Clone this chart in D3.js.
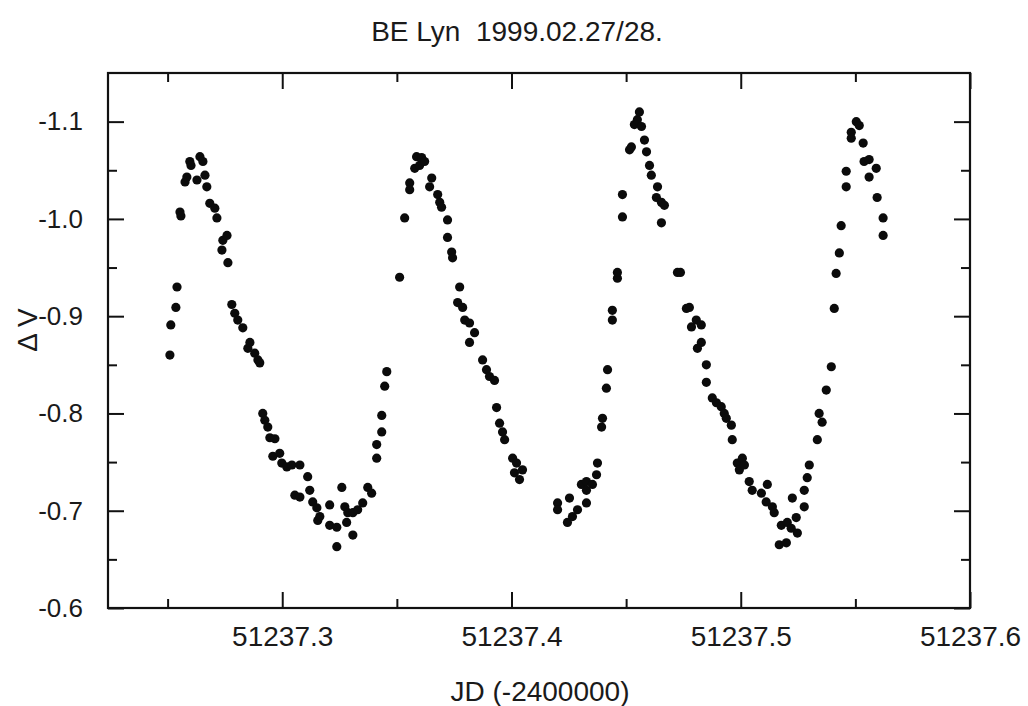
<!DOCTYPE html>
<html>
<head>
<meta charset="utf-8">
<script src="https://cdn.jsdelivr.net/npm/d3@7"></script>
<style>
  body { margin: 0; background: #fff; }
  svg { display: block; font-family: Arial, "Liberation Sans", sans-serif; }
</style>
</head>
<body>
<div id="chart"></div>
<script>
// BE Lyn light curve, 1999.02.27/28
var title = "BE Lyn  1999.02.27/28.";
var xLabel = "JD (-2400000)";
var yLabel = "\u0394 V";

var xMajor = [51237.3, 51237.4, 51237.5, 51237.6];
var xMinor = [51237.25, 51237.35, 51237.45, 51237.55];
var yMajor = [-1.1, -1.0, -0.9, -0.8, -0.7, -0.6];
var yMinor = [-1.05, -0.95, -0.85, -0.75, -0.65];

// observation times (JD - 2400000)
var jd = [
  51237.2510, 51237.2514, 51237.2536, 51237.2541, 51237.2554, 51237.2558, 51237.2576, 51237.2584,
  51237.2597, 51237.2602, 51237.2628, 51237.2641, 51237.2654, 51237.2663, 51237.2671, 51237.2684,
  51237.2706, 51237.2715, 51237.2737, 51237.2741, 51237.2759, 51237.2763, 51237.2780, 51237.2793,
  51237.2806, 51237.2828, 51237.2850, 51237.2859, 51237.2880, 51237.2894, 51237.2902, 51237.2915,
  51237.2924, 51237.2937, 51237.2946, 51237.2959, 51237.2968, 51237.2989, 51237.2998, 51237.3020,
  51237.3042, 51237.3055, 51237.3077, 51237.3077, 51237.3111, 51237.3120, 51237.3133, 51237.3151,
  51237.3155, 51237.3164, 51237.3207, 51237.3207, 51237.3238, 51237.3238, 51237.3260, 51237.3273,
  51237.3281, 51237.3286, 51237.3308, 51237.3308, 51237.3329, 51237.3351, 51237.3373, 51237.3390,
  51237.3412, 51237.3412, 51237.3434, 51237.3434, 51237.3447, 51237.3456,
  51237.3512, 51237.3534, 51237.3556, 51237.3556, 51237.3578, 51237.3586, 51237.3599, 51237.3608,
  51237.3621, 51237.3643, 51237.3652, 51237.3678, 51237.3687, 51237.3695, 51237.3721, 51237.3721,
  51237.3739, 51237.3743, 51237.3765, 51237.3774, 51237.3787, 51237.3796, 51237.3817, 51237.3817,
  51237.3839, 51237.3874, 51237.3891, 51237.3904, 51237.3926, 51237.3935, 51237.3948, 51237.3961,
  51237.3970, 51237.4005, 51237.4013, 51237.4022, 51237.4035, 51237.4048,
  51237.4201, 51237.4201, 51237.4244, 51237.4253, 51237.4266, 51237.4288, 51237.4305, 51237.4327,
  51237.4327, 51237.4327, 51237.4353, 51237.4371, 51237.4375, 51237.4393, 51237.4397, 51237.4414,
  51237.4419, 51237.4440, 51237.4440, 51237.4462, 51237.4462, 51237.4484, 51237.4484, 51237.4515,
  51237.4523, 51237.4536, 51237.4549, 51237.4558, 51237.4567, 51237.4580, 51237.4589, 51237.4602,
  51237.4610, 51237.4632, 51237.4637, 51237.4654, 51237.4667, 51237.4654, 51237.4724, 51237.4737,
  51237.4763, 51237.4776, 51237.4785, 51237.4806, 51237.4828, 51237.4828, 51237.4811, 51237.4850,
  51237.4850, 51237.4876, 51237.4894, 51237.4915, 51237.4928, 51237.4937, 51237.4959, 51237.4963,
  51237.4985, 51237.4994, 51237.5007, 51237.5016, 51237.5037, 51237.5050, 51237.5090, 51237.5116,
  51237.5111, 51237.5138, 51237.5146, 51237.5168, 51237.5177, 51237.5199, 51237.5203, 51237.5220,
  51237.5225, 51237.5242, 51237.5247, 51237.5277, 51237.5277, 51237.5290, 51237.5299,
  51237.5334, 51237.5342, 51237.5355, 51237.5373, 51237.5395, 51237.5408, 51237.5416, 51237.5430,
  51237.5438, 51237.5460, 51237.5460, 51237.5482, 51237.5482, 51237.5504, 51237.5517, 51237.5534,
  51237.5538, 51237.5560, 51237.5560, 51237.5591, 51237.5595, 51237.5621, 51237.5621
];

// differential V magnitude
var dv = [
  -0.860, -0.891, -0.909, -0.930, -1.007, -1.003, -1.038, -1.043,
  -1.059, -1.055, -1.040, -1.064, -1.059, -1.045, -1.033, -1.016,
  -1.011, -1.001, -0.968, -0.978, -0.983, -0.955, -0.912, -0.903,
  -0.896, -0.888, -0.867, -0.873, -0.862, -0.855, -0.852, -0.800,
  -0.793, -0.786, -0.775, -0.756, -0.774, -0.759, -0.749, -0.745,
  -0.747, -0.716, -0.747, -0.714, -0.735, -0.721, -0.709, -0.703,
  -0.690, -0.694, -0.706, -0.685, -0.683, -0.663, -0.724, -0.704,
  -0.688, -0.698, -0.675, -0.698, -0.701, -0.708, -0.724, -0.718,
  -0.754, -0.768, -0.781, -0.798, -0.828, -0.843,
  -0.940, -1.001, -1.037, -1.030, -1.052, -1.064, -1.055, -1.063,
  -1.059, -1.033, -1.042, -1.025, -1.017, -1.012, -0.999, -0.981,
  -0.966, -0.960, -0.914, -0.930, -0.909, -0.896, -0.893, -0.873,
  -0.883, -0.855, -0.845, -0.838, -0.834, -0.806, -0.790, -0.781,
  -0.773, -0.754, -0.739, -0.749, -0.732, -0.742,
  -0.708, -0.701, -0.688, -0.713, -0.694, -0.701, -0.727, -0.708,
  -0.730, -0.721, -0.727, -0.737, -0.749, -0.786, -0.795, -0.826,
  -0.845, -0.896, -0.906, -0.939, -0.945, -1.002, -1.025, -1.071,
  -1.074, -1.097, -1.102, -1.110, -1.095, -1.081, -1.069, -1.055,
  -1.045, -1.022, -1.033, -1.017, -1.014, -0.996, -0.945, -0.945,
  -0.908, -0.909, -0.889, -0.896, -0.891, -0.873, -0.867, -0.850,
  -0.832, -0.816, -0.811, -0.807, -0.800, -0.795, -0.788, -0.773,
  -0.749, -0.742, -0.754, -0.747, -0.730, -0.721, -0.718, -0.727,
  -0.709, -0.704, -0.698, -0.665, -0.685, -0.667, -0.688, -0.682,
  -0.713, -0.693, -0.677, -0.704, -0.721, -0.734, -0.747,
  -0.773, -0.800, -0.791, -0.824, -0.848, -0.908, -0.944, -0.965,
  -0.993, -1.033, -1.049, -1.089, -1.083, -1.100, -1.096, -1.078,
  -1.059, -1.061, -1.043, -1.052, -1.022, -1.001, -0.983
];

var W = 1028, H = 706;
var plot = {left: 108, right: 970, top: 73, bottom: 608};

var svg = d3.select("#chart").append("svg")
    .attr("width", W)
    .attr("height", H);

var x = d3.scaleLinear().domain([51237.224, 51237.6]).range([plot.left, plot.right]);
var y = d3.scaleLinear().domain([-1.15, -0.6]).range([plot.top, plot.bottom]);

var majorLen = 16, minorLen = 9;
// plain hyphen for negatives, like the original plot
var fmt = function(d) { return d3.format(".1f")(d).replace("\u2212", "-"); };

// bottom axis with labels, ticks pointing inward
var gx = svg.append("g")
    .attr("transform", "translate(0," + plot.bottom + ")")
    .call(d3.axisBottom(x).tickValues(xMajor).tickSizeInner(-majorLen).tickSizeOuter(0).tickPadding(18).tickFormat(fmt));
svg.append("g")
    .attr("transform", "translate(0," + plot.bottom + ")")
    .call(d3.axisBottom(x).tickValues(xMinor).tickSizeInner(-minorLen).tickSizeOuter(0).tickFormat(""));
// top axis ticks
svg.append("g")
    .attr("transform", "translate(0," + plot.top + ")")
    .call(d3.axisTop(x).tickValues(xMajor).tickSizeInner(-majorLen).tickSizeOuter(0).tickFormat(""));
svg.append("g")
    .attr("transform", "translate(0," + plot.top + ")")
    .call(d3.axisTop(x).tickValues(xMinor).tickSizeInner(-minorLen).tickSizeOuter(0).tickFormat(""));

// left axis with labels
var gy = svg.append("g")
    .attr("transform", "translate(" + plot.left + ",0)")
    .call(d3.axisLeft(y).tickValues(yMajor).tickSizeInner(-majorLen).tickSizeOuter(0).tickPadding(25).tickFormat(fmt));
svg.append("g")
    .attr("transform", "translate(" + plot.left + ",0)")
    .call(d3.axisLeft(y).tickValues(yMinor).tickSizeInner(-minorLen).tickSizeOuter(0).tickFormat(""));
// right axis ticks
svg.append("g")
    .attr("transform", "translate(" + plot.right + ",0)")
    .call(d3.axisRight(y).tickValues(yMajor).tickSizeInner(-majorLen).tickSizeOuter(0).tickFormat(""));
svg.append("g")
    .attr("transform", "translate(" + plot.right + ",0)")
    .call(d3.axisRight(y).tickValues(yMinor).tickSizeInner(-minorLen).tickSizeOuter(0).tickFormat(""));

svg.selectAll(".domain").remove();
svg.selectAll(".tick line").attr("stroke", "#111").attr("stroke-width", 2);
svg.selectAll(".tick text")
    .attr("fill", "#1a1a1a")
    .style("font-family", "Arial, 'Liberation Sans', sans-serif");
gx.selectAll(".tick text").style("font-size", "28px");
gy.selectAll(".tick text").style("font-size", "26px");

// frame
svg.append("rect")
    .attr("x", plot.left)
    .attr("y", plot.top)
    .attr("width", plot.right - plot.left)
    .attr("height", plot.bottom - plot.top)
    .attr("fill", "none")
    .attr("stroke", "#111")
    .attr("stroke-width", 2.2);

// data points
svg.append("g").selectAll("circle")
    .data(jd)
    .join("circle")
    .attr("cx", function(d) { return x(d); })
    .attr("cy", function(d, i) { return y(dv[i]); })
    .attr("r", 4.6)
    .attr("fill", "#0b0b0b");

// title and axis labels
svg.append("text")
    .attr("x", 517)
    .attr("y", 41)
    .attr("text-anchor", "middle")
    .attr("fill", "#1a1a1a")
    .style("font-size", "28px")
    .style("white-space", "pre")
    .text(title);

svg.append("text")
    .attr("x", 540)
    .attr("y", 701)
    .attr("text-anchor", "middle")
    .attr("fill", "#1a1a1a")
    .style("font-size", "28px")
    .text(xLabel);

svg.append("text")
    .attr("transform", "translate(37,330) rotate(-90)")
    .attr("text-anchor", "middle")
    .attr("fill", "#1a1a1a")
    .style("font-size", "28px")
    .text(yLabel);
</script>
</body>
</html>
